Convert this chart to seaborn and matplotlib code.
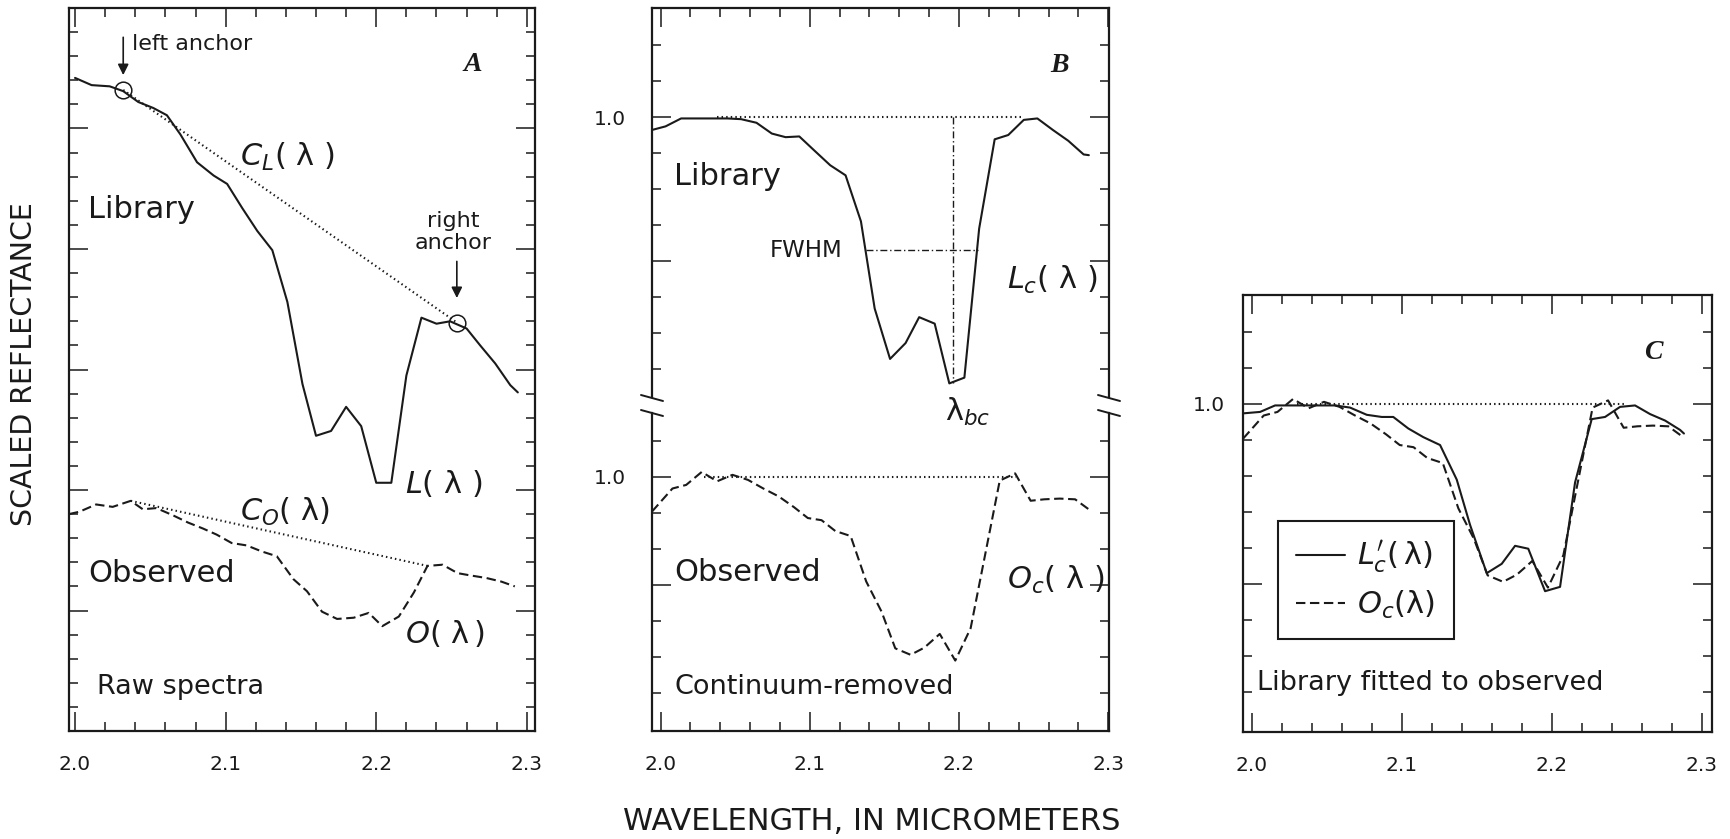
import numpy as np
import seaborn as sns
import matplotlib
matplotlib.use("Agg")
import matplotlib.pyplot as plt
from matplotlib.lines import Line2D
from matplotlib.ticker import MultipleLocator, FixedLocator, FuncFormatter

sns.set_theme(style="ticks")
plt.rcParams['font.family'] = ['DejaVu Sans']
plt.rcParams['mathtext.fontset'] = 'dejavusans'
plt.rcParams['text.color'] = 'k'
plt.rcParams['xtick.color'] = 'k'
plt.rcParams['ytick.color'] = 'k'

# ---- panel A: raw spectra ----
wl_lib_raw = [2.000, 2.011, 2.023, 2.032, 2.042, 2.052, 2.061, 2.070, 2.081, 2.092,
              2.101, 2.111, 2.121, 2.131, 2.141, 2.151, 2.160, 2.170, 2.180, 2.190,
              2.200, 2.210, 2.220, 2.230, 2.240, 2.249, 2.260, 2.269, 2.279, 2.289, 2.294]
lib_raw = [0.742, 0.736, 0.735, 0.731, 0.722, 0.717, 0.711, 0.695, 0.672, 0.661,
           0.654, 0.634, 0.615, 0.599, 0.556, 0.488, 0.445, 0.449, 0.469, 0.453,
           0.406, 0.406, 0.495, 0.543, 0.538, 0.540, 0.534, 0.520, 0.505, 0.487, 0.481]
wl_obs_raw = [1.996, 2.003, 2.014, 2.025, 2.037, 2.045, 2.054, 2.065, 2.075, 2.085,
              2.094, 2.104, 2.114, 2.124, 2.134, 2.145, 2.154, 2.164, 2.174, 2.185,
              2.195, 2.204, 2.215, 2.225, 2.234, 2.244, 2.254, 2.263, 2.273, 2.283, 2.292]
obs_raw = [0.380, 0.382, 0.388, 0.386, 0.391, 0.384, 0.385, 0.379, 0.373, 0.368,
           0.363, 0.356, 0.354, 0.349, 0.345, 0.326, 0.316, 0.299, 0.293, 0.294,
           0.298, 0.287, 0.295, 0.315, 0.337, 0.338, 0.331, 0.329, 0.327, 0.324, 0.320]
lib_anchor_wl = [2.032, 2.2535]
lib_anchor_val = [0.732, 0.539]
obs_anchor_wl = [2.037, 2.234]
obs_anchor_val = [0.391, 0.337]

# ---- panel B: continuum removed ----
wl_lib_cr = [1.9943, 2.0034, 2.0138, 2.0241, 2.0344, 2.0448, 2.0540, 2.0643, 2.0746, 2.0838,
             2.0930, 2.1033, 2.1137, 2.1240, 2.1343, 2.1435, 2.1538, 2.1642, 2.1733, 2.1837,
             2.1935, 2.2036, 2.2135, 2.2239, 2.2330, 2.2434, 2.2525, 2.2629, 2.2732, 2.2835, 2.2870]
lib_cr = [0.982, 0.987, 0.998, 0.998, 0.998, 0.998, 0.997, 0.992, 0.977, 0.972,
          0.973, 0.953, 0.933, 0.919, 0.855, 0.734, 0.664, 0.686, 0.722, 0.713,
          0.630, 0.638, 0.845, 0.969, 0.975, 0.996, 0.998, 0.982, 0.967, 0.948, 0.947]
wl_obs_cr = [1.9943, 2.0080, 2.0172, 2.0276, 2.0379, 2.0482, 2.0586, 2.0689, 2.0792, 2.0895,
             2.0987, 2.1079, 2.1171, 2.1274, 2.1378, 2.1481, 2.1573, 2.1676, 2.1768, 2.1871,
             2.1975, 2.2078, 2.2273, 2.2376, 2.2480, 2.2571, 2.2675, 2.2778, 2.2870]
obs_cr = [0.952, 0.984, 0.989, 1.007, 0.994, 1.003, 0.996, 0.984, 0.973, 0.958,
          0.943, 0.940, 0.925, 0.918, 0.855, 0.813, 0.762, 0.753, 0.763, 0.782,
          0.745, 0.790, 0.995, 1.005, 0.967, 0.969, 0.970, 0.969, 0.955]
lib_cont_wl = [2.038, 2.242]
obs_cont_wl = [2.029, 2.238]
band_center = 2.1963
band_min = 0.630
fwhm_wl = [2.1378, 2.2124]
fwhm_val = 0.815

# ---- panel C: library fitted to observed ----
wl_fit = [1.9944, 2.0056, 2.0156, 2.0256, 2.0356, 2.0456, 2.0556, 2.0656, 2.0767, 2.0867,
          2.0944, 2.1044, 2.1144, 2.1256, 2.1367, 2.1456, 2.1567, 2.1667, 2.1756, 2.1844,
          2.1956, 2.2056, 2.2156, 2.2267, 2.2356, 2.2456, 2.2556, 2.2656, 2.2756, 2.2856, 2.2882]
lib_fit = [0.987, 0.989, 0.998, 0.998, 0.998, 0.998, 0.998, 0.995, 0.985, 0.982,
           0.982, 0.966, 0.954, 0.943, 0.895, 0.832, 0.765, 0.778, 0.803, 0.799,
           0.740, 0.746, 0.891, 0.979, 0.982, 0.996, 0.998, 0.986, 0.977, 0.964, 0.959]
fit_cont_wl = [2.030, 2.248]

W, H = 1730, 839
fig = plt.figure(figsize=(W / 100, H / 100), dpi=100)


def rect(l, t, r, b):
    return [l / W, 1 - b / H, (r - l) / W, (b - t) / H]


axA = fig.add_axes(rect(69, 8, 535, 731))
axB1 = fig.add_axes(rect(652, 8, 1109, 405))
axB2 = fig.add_axes(rect(652, 405, 1109, 731))
axC = fig.add_axes(rect(1243, 295, 1712, 732))
axB2.patch.set_alpha(0)

LW = 1.5
DASH = [4.5, 2.2]
DOT = [0.7, 1.5]

# text sizes
F_NAME = 22      # Library / Observed
F_NOTE = 19.5    # Raw spectra etc.
F_MATH = 22
F_SMALL = 16
F_LETTER = 20


def line(ax, x, y, style='-', lw=LW, label=None):
    sns.lineplot(x=x, y=y, ax=ax, color='k', lw=lw, sort=False, estimator=None, label=label)
    ln = ax.lines[-1]
    if style == '--':
        ln.set_dashes(DASH)
    elif style == ':':
        ln.set_linewidth(1.5)
        ln.set_dashes(DOT)
    elif style == '-.':
        ln.set_linewidth(1.0)
        ln.set_dashes([5, 2, 1, 2])
    return ln


def style_axes(ax, xlim, ylim):
    ax.set_xlim(*xlim)
    ax.set_ylim(*ylim)
    ax.xaxis.set_major_locator(MultipleLocator(0.1))
    ax.xaxis.set_minor_locator(MultipleLocator(0.02))
    ax.xaxis.set_major_formatter(FuncFormatter(lambda v, p: f"{v:.1f}"))
    ax.tick_params(which='both', direction='in', top=True, right=True, width=1.1)
    ax.tick_params(which='major', length=14, labelsize=14.5)
    ax.tick_params(which='minor', length=6.5)
    ax.tick_params(axis='x', pad=17)
    for s in ax.spines.values():
        s.set_linewidth(1.6)
        s.set_color('k')
    ax.set_xlabel('')
    ax.set_ylabel('')


def letter(ax, x, y, s):
    ax.text(x, y, s, fontsize=F_LETTER, ha='center', va='center',
            family='Liberation Serif', weight='bold', style='italic')


one_only = FuncFormatter(lambda v, p: "1.0" if abs(v - 1.0) < 1e-6 else "")

# ---------- A ----------
style_axes(axA, (1.996, 2.3054), (0.2, 0.8))
axA.yaxis.set_major_locator(MultipleLocator(0.1))
axA.yaxis.set_minor_locator(MultipleLocator(0.02))
axA.tick_params(axis='y', labelleft=False)
line(axA, wl_lib_raw, lib_raw, '-')
line(axA, wl_obs_raw, obs_raw, '--')
line(axA, lib_anchor_wl, lib_anchor_val, ':')
line(axA, obs_anchor_wl, obs_anchor_val, ':')
axA.plot(lib_anchor_wl, lib_anchor_val, ls='none', marker='o', ms=12, mfc='none', mec='k', mew=1.1)
axA.annotate('', xy=(lib_anchor_wl[0], 0.742), xytext=(lib_anchor_wl[0], 0.778),
             arrowprops=dict(arrowstyle='-|>', color='k', lw=1.2, mutation_scale=16))
axA.annotate('', xy=(lib_anchor_wl[1], 0.557), xytext=(lib_anchor_wl[1], 0.592),
             arrowprops=dict(arrowstyle='-|>', color='k', lw=1.2, mutation_scale=16))
axA.text(2.0376, 0.770, 'left anchor', fontsize=F_SMALL, ha='left', va='center')
axA.text(2.251, 0.614, 'right\nanchor', fontsize=F_SMALL, ha='center', va='center', linespacing=1.1)
letter(axA, 2.2643, 0.7527, 'A')
axA.text(2.1096, 0.6763, r'$C_L(\ \mathrm{\lambda}\ )$', fontsize=F_MATH, ha='left', va='center')
axA.text(2.0086, 0.6324, 'Library', fontsize=F_NAME, ha='left', va='center')
axA.text(2.2191, 0.4058, r'$L(\ \mathrm{\lambda}\ )$', fontsize=F_MATH, ha='left', va='center')
axA.text(2.1096, 0.3817, r'$C_O(\ \mathrm{\lambda})$', fontsize=F_MATH, ha='left', va='center')
axA.text(2.0086, 0.3311, 'Observed', fontsize=F_NAME, ha='left', va='center')
axA.text(2.2191, 0.2813, r'$O(\ \mathrm{\lambda}\,)$', fontsize=F_MATH, ha='left', va='center')
axA.text(2.0146, 0.2365, 'Raw spectra', fontsize=F_NOTE, ha='left', va='center')

# ---------- B upper ----------
style_axes(axB1, (1.9943, 2.3005), (0.6, 1.1514))
axB1.yaxis.set_major_locator(FixedLocator([0.8, 1.0]))
axB1.yaxis.set_minor_locator(FixedLocator(np.arange(0.65, 1.12, 0.05)))
axB1.yaxis.set_major_formatter(one_only)
axB1.tick_params(axis='y', pad=19)
axB1.tick_params(axis='x', which='both', bottom=False, labelbottom=False)
axB1.spines['bottom'].set_visible(False)
axB1.spines['left'].set_bounds(0.611, 1.1514)
axB1.spines['right'].set_bounds(0.611, 1.1514)
line(axB1, wl_lib_cr, lib_cr, '-')
line(axB1, lib_cont_wl, [1.0, 1.0], ':')
line(axB1, [band_center, band_center], [1.0, band_min], '-.')
line(axB1, fwhm_wl, [fwhm_val, fwhm_val], '-.')
letter(axB1, 2.2674, 1.0722, 'B')
axB1.text(2.0092, 0.9167, 'Library', fontsize=F_NAME, ha='left', va='center')
axB1.text(2.2319, 0.7736, r'$L_c(\ \mathrm{\lambda}\ )$', fontsize=F_MATH, ha='left', va='center')
axB1.text(2.1906, 0.590, r'$\mathrm{\lambda}_{bc}$', fontsize=F_MATH, ha='left', va='center',
          clip_on=False, zorder=10)
axB1.text(2.1217, 0.8139, 'FWHM', fontsize=16.5, ha='right', va='center')

# ---------- B lower ----------
style_axes(axB2, (1.9943, 2.3005), (0.6472, 1.1))
axB2.yaxis.set_major_locator(FixedLocator([0.85, 1.0]))
axB2.yaxis.set_minor_locator(FixedLocator(np.arange(0.70, 1.06, 0.05)))
axB2.yaxis.set_major_formatter(one_only)
axB2.tick_params(axis='y', pad=19)
axB2.tick_params(axis='x', which='both', top=False)
axB2.spines['top'].set_visible(False)
axB2.spines['left'].set_bounds(0.6472, 1.089)
axB2.spines['right'].set_bounds(0.6472, 1.089)
line(axB2, wl_obs_cr, obs_cr, '--')
line(axB2, obs_cont_wl, [1.0, 1.0], ':')
axB2.text(2.0092, 0.8667, 'Observed', fontsize=F_NAME, ha='left', va='center')
axB2.text(2.2319, 0.8569, r'$O_c(\ \mathrm{\lambda}\ )$', fontsize=F_MATH, ha='left', va='center')
axB2.text(2.0092, 0.7083, 'Continuum-removed', fontsize=F_NOTE, ha='left', va='center')

# axis break marks on B
for xs in (652, 1109):
    for ys in (398, 413):
        fig.add_artist(Line2D([(xs - 11) / W, (xs + 11) / W],
                              [1 - (ys - 3) / H, 1 - (ys + 3) / H],
                              color='k', lw=1.4))

# ---------- C ----------
style_axes(axC, (1.9942, 2.3069), (0.5444, 1.1514))
axC.yaxis.set_major_locator(FixedLocator([0.75, 1.0]))
axC.yaxis.set_minor_locator(FixedLocator(np.arange(0.60, 1.12, 0.05)))
axC.yaxis.set_major_formatter(one_only)
axC.tick_params(axis='y', pad=13)
line(axC, wl_fit, lib_fit, '-', label=r"$L^{\prime}_{c}(\,\mathrm{\lambda})$")
line(axC, wl_obs_cr, obs_cr, '--', label=r'$O_c(\mathrm{\lambda})$')
line(axC, fit_cont_wl, [1.0, 1.0], ':')
leg = axC.legend(loc='lower left', bbox_to_anchor=(0.0746, 0.2128), fontsize=22,
                 frameon=True, fancybox=False, framealpha=1, edgecolor='k',
                 handlelength=1.6, handletextpad=0.4, borderpad=0.6, labelspacing=0.4,
                 borderaxespad=0)
leg.get_frame().set_linewidth(1.5)
letter(axC, 2.2675, 1.0722, 'C')
axC.text(2.0035, 0.6125, 'Library fitted to observed', fontsize=F_NOTE, ha='left', va='center')

fig.text(872 / W, 1 - 822 / H, 'WAVELENGTH, IN MICROMETERS', fontsize=22, ha='center', va='center')
fig.text(24 / W, 1 - 364 / H, 'SCALED REFLECTANCE', fontsize=20.5, ha='center', va='center',
         rotation=90)

fig.savefig('out.png', dpi=100)
